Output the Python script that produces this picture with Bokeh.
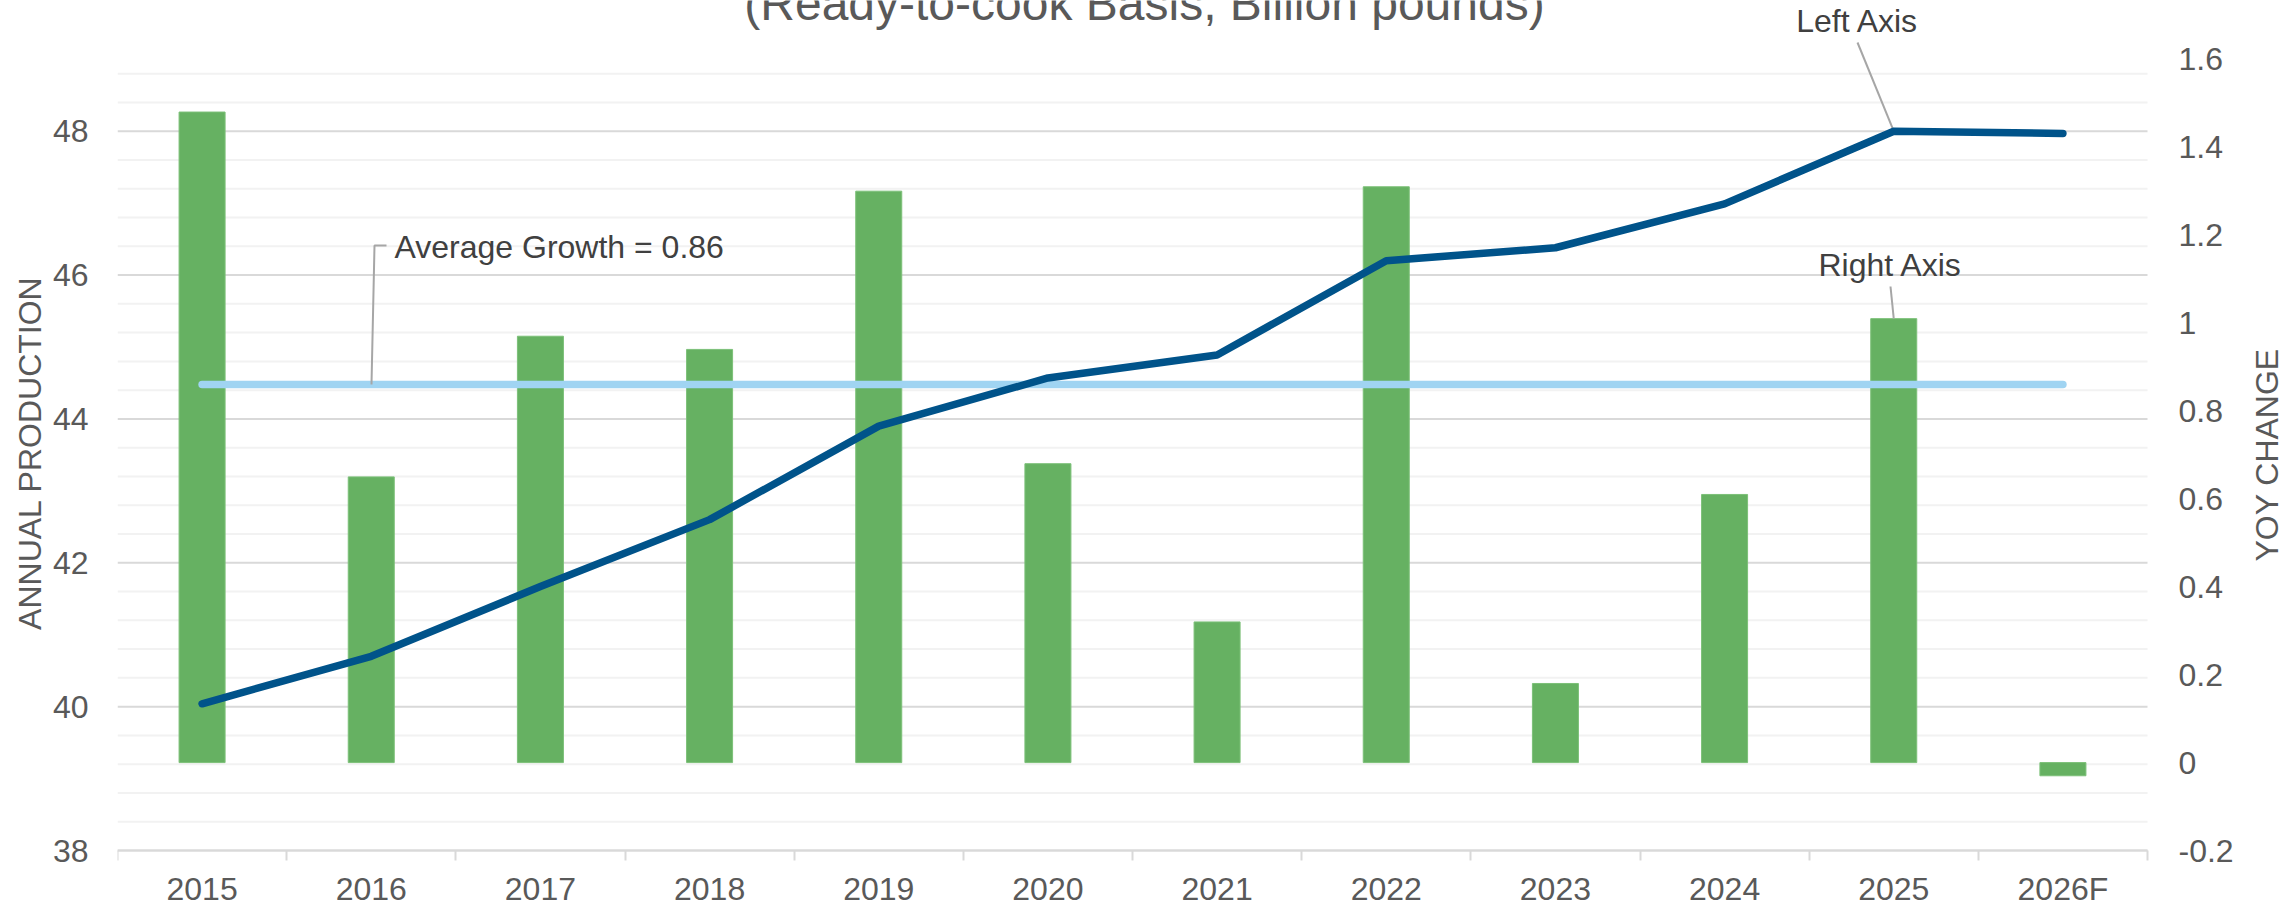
import numpy as np
from bokeh.plotting import figure
from bokeh.models import Range1d, LinearAxis, FixedTicker, CustomJSTickFormatter, Label
from bokeh.embed import file_html
from bokeh.resources import INLINE

# ---------------- data ----------------
years = ["2015", "2016", "2017", "2018", "2019", "2020", "2021", "2022", "2023", "2024", "2025", "2026F"]
production = [40.04, 40.70, 41.67, 42.60, 43.90, 44.57, 44.89, 46.20, 46.38, 46.99, 48.00, 47.97]
yoy_change = [1.48, 0.65, 0.97, 0.94, 1.30, 0.68, 0.32, 1.31, 0.18, 0.61, 1.01, -0.03]
average_growth = 0.86
left_ticks = [38, 40, 42, 44, 46, 48]
right_ticks = [-0.2, 0, 0.2, 0.4, 0.6, 0.8, 1.0, 1.2, 1.4, 1.6]
title_text = "(Ready-to-cook Basis, Billion pounds)"
left_title = "ANNUAL PRODUCTION"
right_title = "YOY CHANGE"
avg_text = "Average Growth = 0.86"
left_note = "Left Axis"
right_note = "Right Axis"

# ---------------- layout (canvas pixel coords) ----------------
W, H = 2295, 905
FL, FR = 117, 2147          # plot area left / right
FB = 850                    # plot area bottom (x axis line)
PLOT_TOP = 58.8             # plot area top
L_MIN, L_MAX = 38, 49
R_MIN, R_MAX = -0.2, 1.6
span_px = FB - PLOT_TOP
l_pu = span_px / (L_MAX - L_MIN)
r_pu = span_px / (R_MAX - R_MIN)
n = len(years)
cat_px = (FR - FL) / n

def dx(px):
    return (px - FL) / cat_px

def ly(py):
    return L_MIN + (FB - py) / l_pu

def ry(py):
    return R_MIN + (FB - py) / r_pu

FONT = "Liberation Sans"
GREY = "#595959"
DARK = "#404040"

# frame: from the plot-area left edge to the canvas right/top/bottom edges;
# the x and right axes are pinned at the plot-area edges
p = figure(width=W, height=H, output_backend="svg", toolbar_location=None, title=None,
           x_range=Range1d(0, dx(W)), y_range=Range1d(ly(H), ly(0)),
           min_border_left=FL, min_border_right=0, min_border_top=0, min_border_bottom=0,
           outline_line_color=None, background_fill_color="white", border_fill_color="white")
p.extra_y_ranges = {"right": Range1d(ry(H), ry(0))}
p.xgrid.visible = False
p.ygrid.visible = False

xc = [i + 0.5 for i in range(n)]

# gridlines (major + minor of the left axis), limited to the plot area
minor_left = [round(L_MIN + 0.4 * k, 1) for k in range(1, 28)]
minor_left = [v for v in minor_left if v not in left_ticks]
p.segment(x0=0, x1=n, y0=minor_left, y1=minor_left, line_color="#F2F2F2", line_width=2)
p.segment(x0=0, x1=n, y0=left_ticks, y1=left_ticks, line_color="#D9D9D9", line_width=2)

# x axis
xa = p.xaxis[0]
xa.fixed_location = L_MIN
xa.bounds = (0, n)
xa.ticker = FixedTicker(ticks=xc, minor_ticks=list(range(n + 1)))
xa.formatter = CustomJSTickFormatter(args=dict(labels=years),
                                     code="return labels[Math.round(tick - 0.5)];")
xa.major_tick_out = 0
xa.major_tick_in = 0
xa.minor_tick_out = 10
xa.minor_tick_in = 0
xa.minor_tick_line_color = "#D9D9D9"
xa.minor_tick_line_width = 2
xa.axis_line_color = "#D9D9D9"
xa.axis_line_width = 2
xa.major_label_text_font = FONT
xa.major_label_text_font_size = "32px"
xa.major_label_text_color = GREY
xa.major_label_standoff = 10

# left axis
ya = p.yaxis[0]
ya.ticker = FixedTicker(ticks=left_ticks)
ya.formatter = CustomJSTickFormatter(code="return String(Math.round(tick));")
ya.axis_line_color = None
ya.major_tick_line_color = None
ya.minor_tick_line_color = None
ya.major_tick_out = 0
ya.minor_tick_out = 0
ya.major_label_standoff = 29
ya.major_label_text_font = FONT
ya.major_label_text_font_size = "32px"
ya.major_label_text_color = GREY
ya.axis_label = left_title
ya.axis_label_standoff = 2
ya.axis_label_text_font = FONT
ya.axis_label_text_font_size = "32px"
ya.axis_label_text_font_style = "normal"
ya.axis_label_text_color = GREY

# right axis, pinned at the plot-area right edge
ra = LinearAxis(y_range_name="right", fixed_location=n,
                ticker=FixedTicker(ticks=right_ticks),
                formatter=CustomJSTickFormatter(code="return String(Math.round(tick * 10) / 10);"))
ra.axis_line_color = None
ra.major_tick_line_color = None
ra.minor_tick_line_color = None
ra.major_tick_out = 0
ra.minor_tick_out = 0
ra.major_label_standoff = 31
ra.major_label_text_font = FONT
ra.major_label_text_font_size = "32px"
ra.major_label_text_color = GREY
p.add_layout(ra, "right")

# bars (right axis)
p.vbar(x=xc, top=yoy_change, bottom=0, width=0.272, fill_color="#66B162",
       line_color="#7CC078", line_width=1, y_range_name="right")

# average growth line (right axis)
p.line(x=[xc[0], xc[-1]], y=[average_growth, average_growth], line_color="#A0D4F2",
       line_width=7.5, line_cap="round", y_range_name="right")

# leader lines
LEAD = "#A6A6A6"
p.line(x=[dx(386), dx(374), dx(371)], y=[ry(245), ry(245), average_growth],
       line_color=LEAD, line_width=2, y_range_name="right")
p.line(x=[dx(1857), xc[10]], y=[ly(42), production[10]], line_color=LEAD, line_width=2)
p.line(x=[dx(1890), xc[10]], y=[ry(286), yoy_change[10]], line_color=LEAD, line_width=2,
       y_range_name="right")

# production line (left axis)
p.line(x=xc, y=production, line_color="#00538A", line_width=7.5, line_cap="round", line_join="round")

# texts (placed by their vertical middle); the title is cropped at the top as in the source
p.add_layout(Label(x=dx(1144), y=ly(3), text=title_text, text_font=FONT, text_font_size="48px",
                   text_color=GREY, text_align="center", text_baseline="middle"))
p.add_layout(Label(x=dx(394), y=ly(246), text=avg_text, text_font=FONT, text_font_size="32px",
                   text_color=DARK, text_align="left", text_baseline="middle"))
p.add_layout(Label(x=dx(1857), y=ly(20), text=left_note, text_font=FONT, text_font_size="32px",
                   text_color=DARK, text_align="center", text_baseline="middle"))
p.add_layout(Label(x=dx(1890), y=ly(264), text=right_note, text_font=FONT, text_font_size="32px",
                   text_color=DARK, text_align="center", text_baseline="middle"))
p.add_layout(Label(x=dx(2266), y=(L_MIN + L_MAX) / 2, text=right_title, text_font=FONT,
                   text_font_size="32px", text_color=GREY, text_align="center",
                   text_baseline="middle", angle=np.pi / 2))

open("out.html", "w").write(file_html(p, INLINE))
